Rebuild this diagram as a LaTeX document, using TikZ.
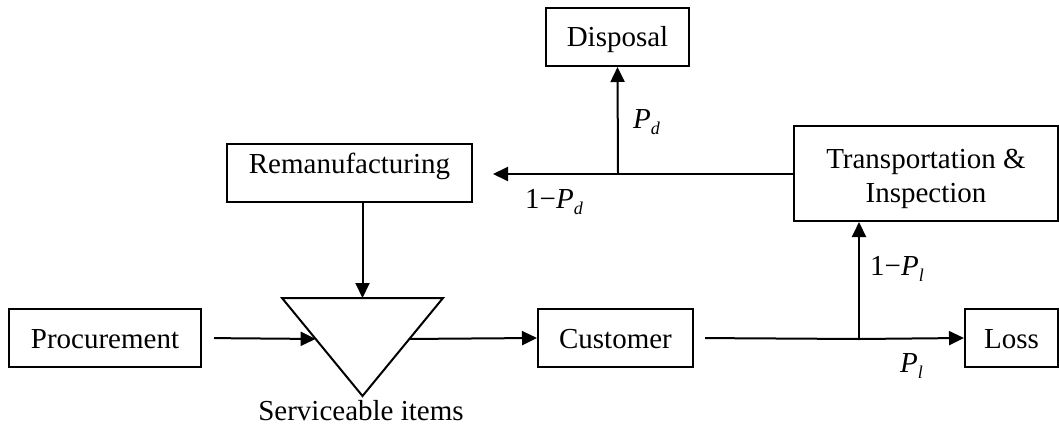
\documentclass[tikz,border=0pt]{standalone}
\usepackage{fontspec}
\setmainfont{Liberation Serif}
\usetikzlibrary{arrows.meta,calc}
% italic subscript for the probability labels
\newcommand\lsub[1]{\raisebox{-6pt}{\fontsize{18}{20}\selectfont\itshape #1}}
\begin{document}
\begin{tikzpicture}[x=1pt,y=-1pt,
  txt/.style={font=\fontsize{29}{34}\selectfont},
  box/.style={txt, draw, line width=2pt, minimum height=58pt, inner sep=0pt,
    text height=20pt, text depth=0pt},
  flow/.style={line width=2pt, -{Triangle[length=15pt,width=14pt]}},
  plain/.style={line width=2pt},
  lab/.style={txt, inner sep=0pt, anchor=base west}]
\useasboundingbox (0,0) rectangle (1059,428);

% process boxes
\node[box, minimum width=143pt] (disp) at (617.5,37) {Disposal};
\node[box, minimum width=245pt, text height=10pt, text depth=10pt] (reman) at (349.5,173) {Remanufacturing};
\node[box, minimum width=264pt, minimum height=95pt, align=center,
      text height=57pt, text depth=0pt] (trans) at (926,173.5) {Transportation \&\\Inspection};
\node[box, minimum width=192pt] (proc) at (105,338) {Procurement};
\node[box, minimum width=155pt] (cust) at (615.5,338) {Customer};
\node[box, minimum width=93pt] (loss) at (1011.5,338) {Loss};

% inventory of serviceable items (inverted triangle)
\coordinate (tl) at (282,298);
\coordinate (tr) at (443,298);
\coordinate (ap) at (362.5,396);
\coordinate (tm) at (362.5,298);
\draw[plain, line join=miter] (tl) -- (tr) -- (ap) -- cycle;
\node[txt, anchor=base, inner sep=0pt] (serv) at (361,420) {Serviceable items};
\coordinate (inL) at ($(tl)!0.418!(ap)$);
\coordinate (outR) at ($(tr)!0.418!(ap)$);

% branch points
\coordinate (jd) at (618,174);
\coordinate (jl) at (859,339);

% forward flow
\draw[flow, shorten <=12pt] (proc.east) -- (inL);
\draw[flow] (outR) -- (cust.west);
\draw[plain, shorten <=11pt] (cust.east) -- (jl);
\draw[flow] (jl) -- (loss.west);
\draw[flow] (jl) -- (jl |- trans.south);

% return flow
\draw[plain] (trans.west |- jd) -- (jd);
\draw[flow, shorten >=20pt] (jd) -- (reman.east |- jd);
\draw[flow] (jd) -- (disp.south);
\draw[flow] (reman.south -| tm) -- (tm);

% probability labels
\node[lab] (lpd) at (633,128) {\itshape P\lsub{d}};
\node[lab] (lpr) at (525,208) {1−\textit{P}\lsub{d}};
\node[lab] (lpt) at (870,275) {1−\textit{P}\lsub{l}};
\node[lab] (lpl) at (900,372) {\itshape P\lsub{l}};
\end{tikzpicture}
\end{document}
